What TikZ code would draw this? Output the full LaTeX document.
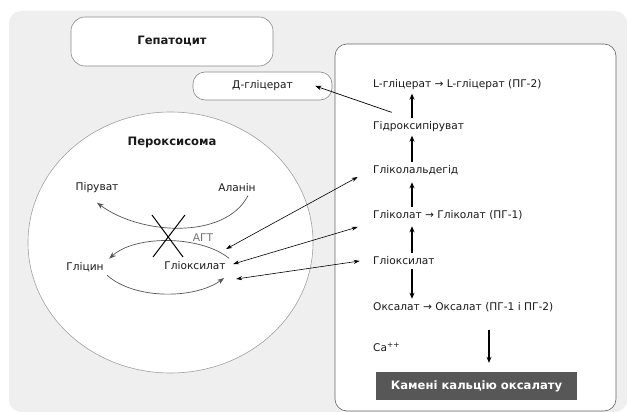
\documentclass[tikz,border=0pt]{standalone}
\usepackage{fontspec}
\setmainfont{DejaVu Sans}
\usetikzlibrary{arrows.meta,shapes.geometric}
\definecolor{bggray}{HTML}{EFEFEF}
\definecolor{linegray}{HTML}{8A8A8A}
\definecolor{curvegray}{HTML}{555555}
\definecolor{stonegray}{HTML}{575757}
\definecolor{textdark}{HTML}{1A1A1A}
\newcommand{\toarrow}{\char"2192}
\tikzset{
  liverfig/.style={x=1pt,y=-1pt,>=Stealth,
    every node/.style={font=\fontsize{10.6}{12}\selectfont,text=textdark}},
  cellbox/.style={draw=linegray,fill=white,line width=0.6pt},
  titletext/.style={font=\fontsize{11.6}{13}\selectfont\bfseries},
  metab/.style={anchor=west},
  pathstep/.style={-{Stealth[length=6pt,width=5pt]},line width=1.3pt},
  transport/.style={{Stealth[length=6pt,width=4pt]}-{Stealth[length=6pt,width=4pt]},line width=0.6pt},
  agtcurve/.style={-{Stealth[length=7pt,width=5pt]},draw=curvegray,line width=0.7pt},
}
\begin{document}
\begin{tikzpicture}[liverfig]
  \useasboundingbox (0,0) rectangle (627,412);
  \fill[bggray,rounded corners=12pt] (9,11) rectangle (627,412);

  \node[cellbox,rounded corners=14pt,minimum width=202pt,minimum height=49pt,titletext]
    (hepatocyte) at (172,41.5) {Гепатоцит};
  \node[cellbox,rounded corners=12pt,minimum width=139pt,minimum height=28pt]
    (dglyc) at (262.5,86) {Д-гліцерат};
  \node[cellbox,draw=linegray!80,ellipse,minimum width=285pt,minimum height=261pt]
    (perox) at (170.5,242.5) {};
  \node[titletext] (peroxlabel) at (172,142) {Пероксисома};
  \node[cellbox,draw=black!60,rounded corners=12pt,minimum width=281pt,minimum height=367pt]
    (cytosol) at (475.5,227.5) {};

  \node[metab] (lglyc) at (369.7,85) {L-гліцерат \toarrow{} L-гліцерат (ПГ-2)};
  \node[metab] (hydroxy) at (369.7,127) {Гідроксипіруват};
  \node[metab] (glycald) at (369.7,170) {Гліколальдегід};
  \node[metab] (glycolate) at (369.7,215) {Гліколат \toarrow{} Гліколат (ПГ-1)};
  \node[metab] (glyoxcyt) at (369.7,261) {Гліоксилат};
  \node[metab] (oxalate) at (369.7,307) {Оксалат \toarrow{} Оксалат (ПГ-1 і ПГ-2)};
  \node[metab] (calcium) at (369.7,347) {Ca\textsuperscript{++}};
  \node[fill=stonegray,text=white,titletext,minimum width=201pt,minimum height=28pt]
    (stones) at (476.5,386) {Камені кальцію оксалату};
  \coordinate (axis) at (412,0);
  \coordinate (cadrop) at (489,330);

  \draw[pathstep] (hydroxy.north -| axis) -- (lglyc.south -| axis);
  \draw[pathstep] (glycald.north -| axis) -- (hydroxy.south -| axis);
  \draw[pathstep] (glycolate.north -| axis) -- ([yshift=-4pt]glycald.south -| axis);
  \draw[pathstep] (glyoxcyt.north -| axis) -- ([yshift=-3pt]glycolate.south -| axis);
  \draw[pathstep] (glyoxcyt.south -| axis) -- (oxalate.north -| axis);
  \draw[pathstep,shorten >=9pt] (cadrop) -- (stones.north -| cadrop);

  \node (pyruvate) at (97,188) {Піруват};
  \node (alanine) at (237,188) {Аланін};
  \node (glycine) at (85,267) {Гліцин};
  \node (glyoxper) at (195,266) {Гліоксилат};
  \node[text=black!55] (agt) at (203,238) {АГТ};

  \draw[agtcurve] ([xshift=11pt]alanine.south) .. controls (225,240) and (140,235)
    .. ([yshift=-6pt]pyruvate.south);
  \draw[agtcurve] (glyoxper.north east) .. controls (200,235) and (135,235)
    .. ([xshift=2pt]glycine.north east);
  \draw[agtcurve] (glycine.south east) .. controls (135,300) and (195,299)
    .. ([xshift=-5pt,yshift=-12pt]glyoxper.east);
  \draw[line width=1pt] (152,215) -- (183,257);
  \draw[line width=1pt] (185,215) -- (153,257);

  \draw[->,line width=0.7pt] ([xshift=22pt,yshift=6pt]hydroxy.north west) -- ([xshift=-17pt]dglyc.east);
  \draw[transport] ([xshift=-3pt,yshift=17pt]glyoxper.east) -- ([xshift=-12pt,yshift=-7pt]glycald.west);
  \draw[transport] ([xshift=4pt,yshift=2pt]glyoxper.east) -- ([xshift=-12pt,yshift=-12pt]glycolate.west);
  \draw[transport] ([xshift=7pt,yshift=-13pt]glyoxper.east) -- ([xshift=-10pt]glyoxcyt.west);
\end{tikzpicture}
\end{document}
